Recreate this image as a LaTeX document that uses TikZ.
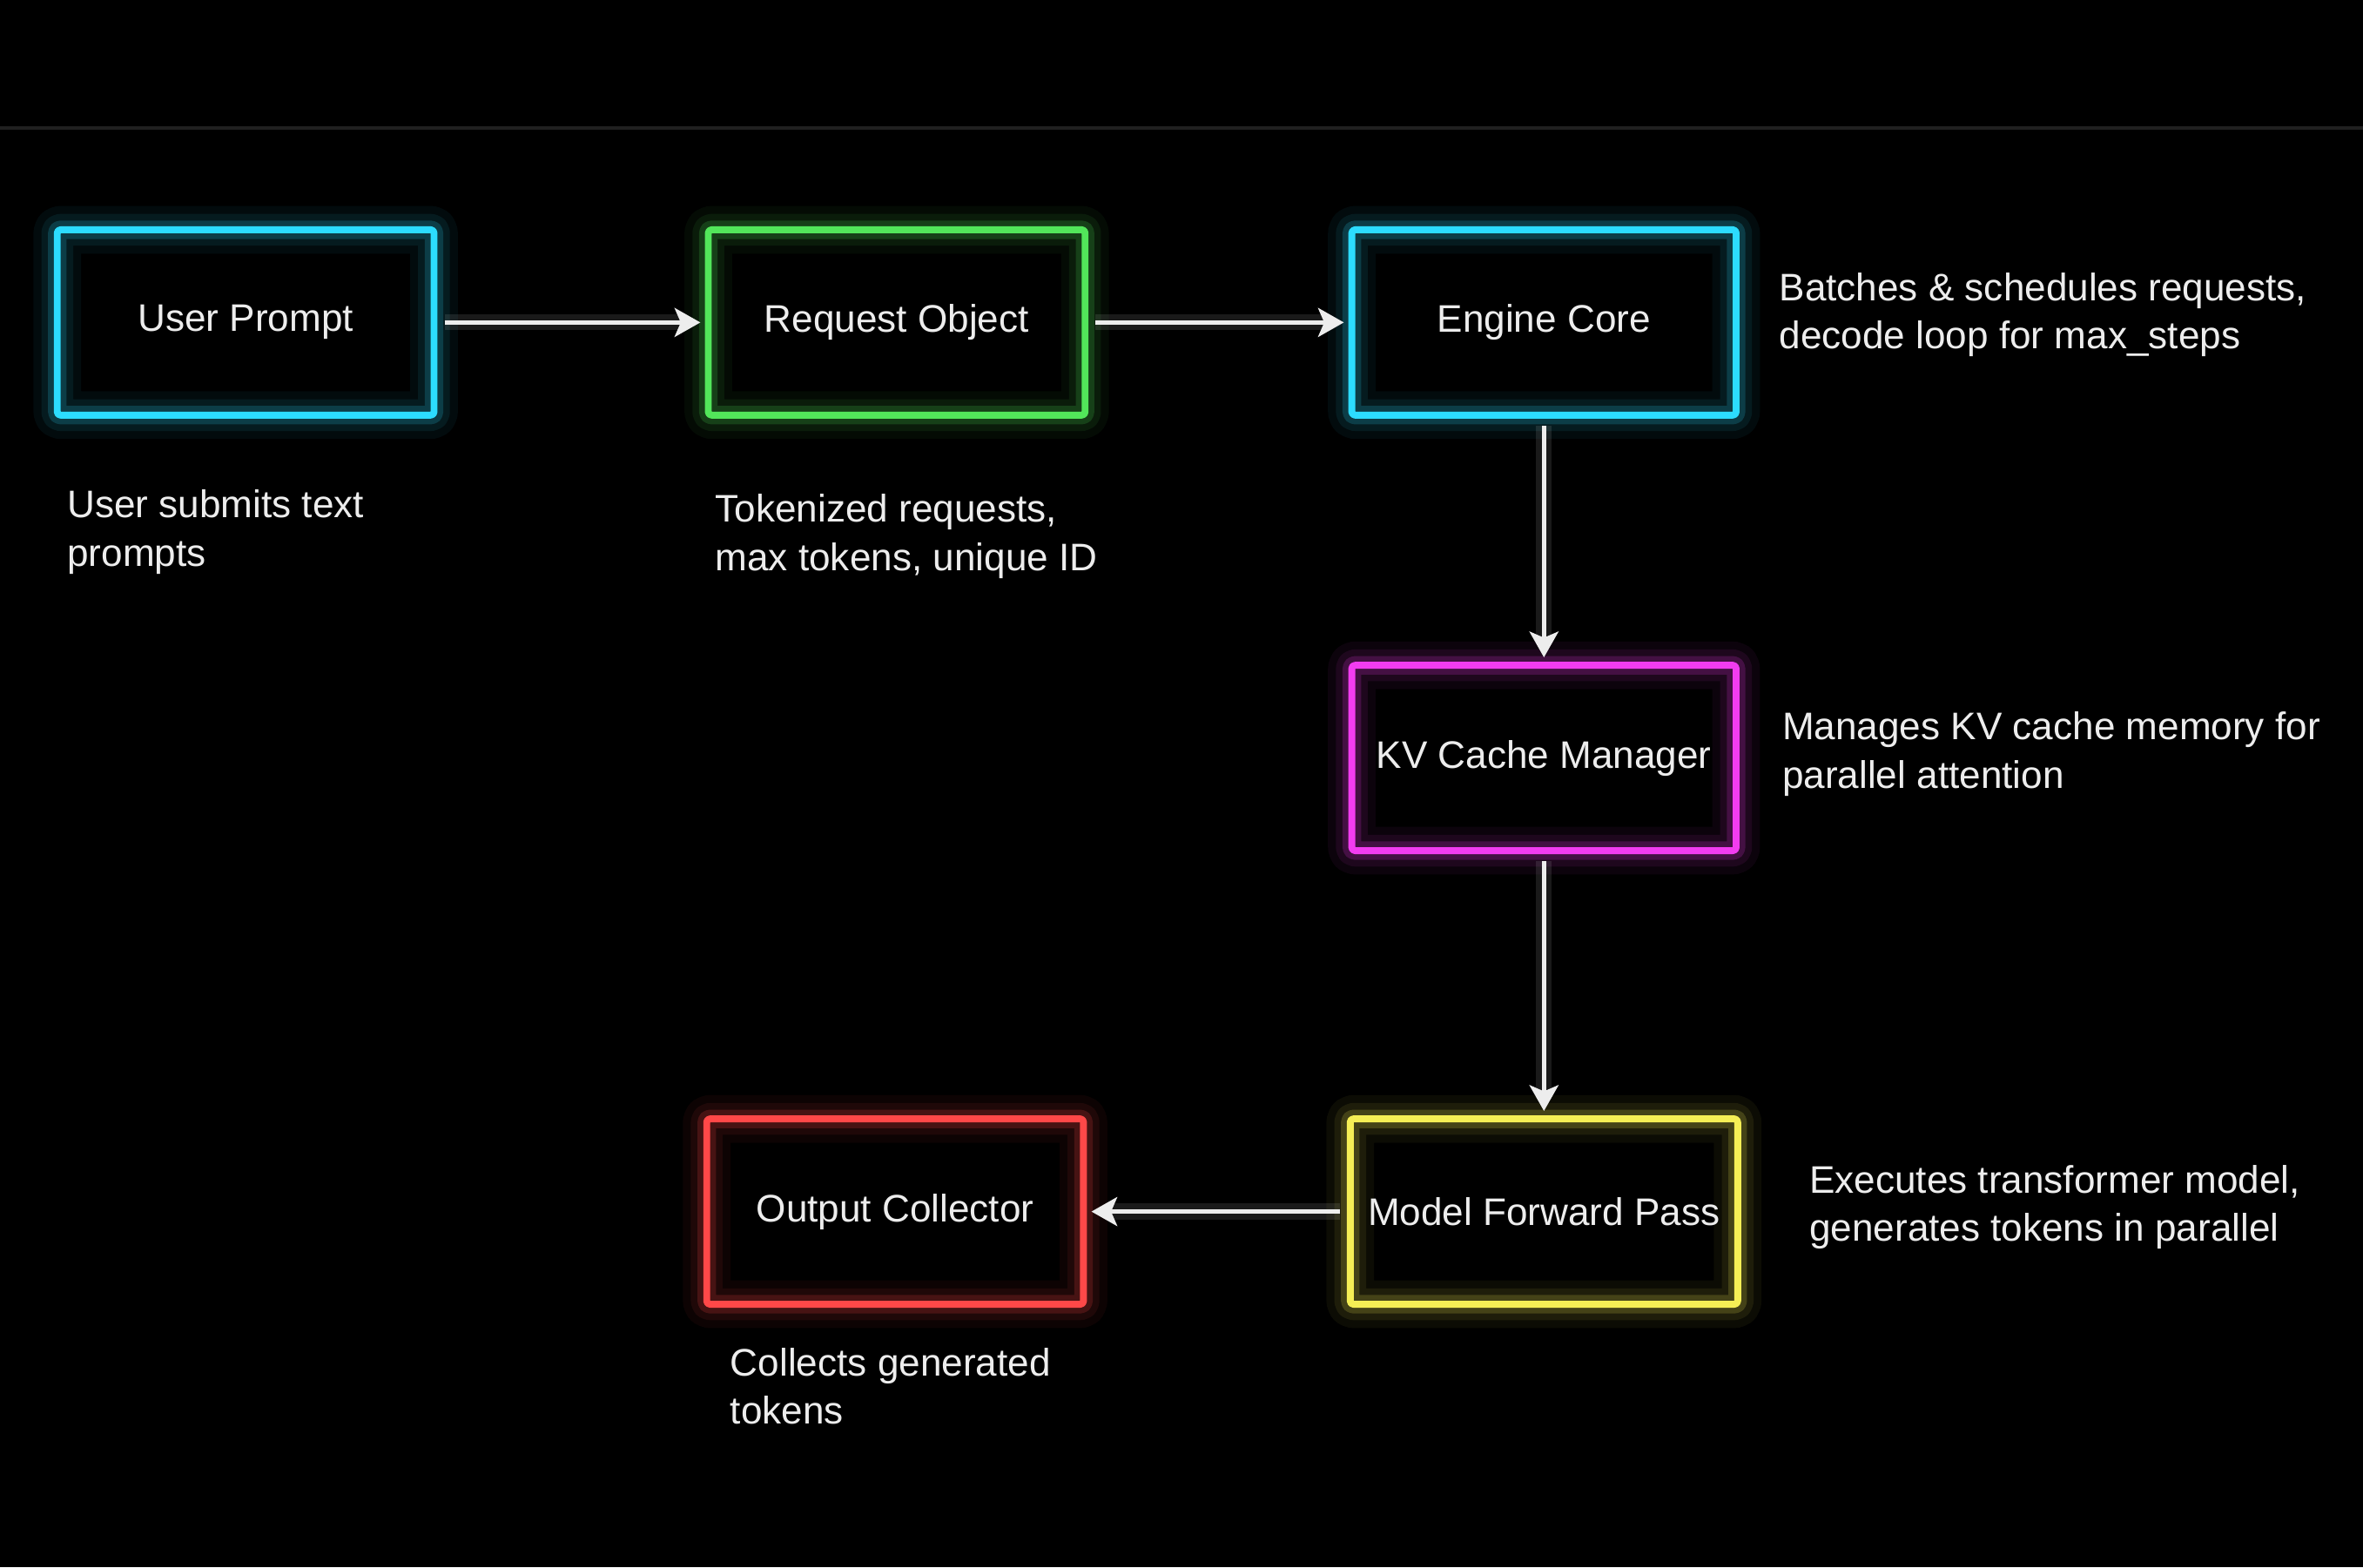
\documentclass[tikz,border=0pt]{standalone}
\usepackage{fontspec}
\setmainfont{Liberation Sans}
\usetikzlibrary{positioning,arrows.meta}
\definecolor{neoncyan}{HTML}{2CDCFF}
\definecolor{neongreen}{HTML}{52E65A}
\definecolor{neonpink}{HTML}{F23CF0}
\definecolor{neonyellow}{HTML}{F5EE55}
\definecolor{neonred}{HTML}{FF4848}
\definecolor{softwhite}{HTML}{EDEDED}
\begin{document}
\begin{tikzpicture}[->, >={Stealth[length=1.7mm,width=1.9mm,inset=0.4mm]},
        font=\fontsize{7.25}{9.1}\selectfont, text=softwhite,
        neon/.style={draw=#1, line width=1.3pt, minimum width=2.5cm, minimum height=1.23cm, outer sep=0pt,
            rounded corners=0.6pt, line join=round,
            preaction={draw=#1, line width=9pt, opacity=0.05},
            preaction={draw=#1, line width=6pt, opacity=0.08},
            preaction={draw=#1, line width=3.5pt, opacity=0.18}},
        note/.style={anchor=west, align=left, inner sep=0pt},
        flow/.style={draw=softwhite, line width=0.9pt, shorten <=2pt, shorten >=1.5pt,
            preaction={draw=white, line width=3pt, opacity=0.1}}]
        \useasboundingbox[fill=black] (0,0) rectangle (15.68,10.40);
        \draw[-, gray!25!black, line width=0.6pt] (0,9.55) -- (15.68,9.55);
        \node[neon=neoncyan] (prompt) at (1.63,8.26) {User Prompt};
        \node[neon=neongreen, right=1.82cm of prompt] (request) {Request Object};
        \node[neon=neoncyan, minimum width=2.55cm, right=1.77cm of request] (engine) {Engine Core};
        \node[neon=neonpink, minimum width=2.55cm, below=1.66cm of engine] (kvcache) {KV Cache Manager};
        \node[neon=neonyellow, minimum width=2.55cm, below=1.78cm of kvcache] (forward) {Model Forward Pass};
        \node[neon=neonred, left=1.77cm of forward] (collector) {Output Collector};
        \node[note] (promptnote) at (0.44,6.87) {User submits text\\prompts};
        \node[note] (requestnote) at (4.74,6.84) {Tokenized requests,\\max tokens, unique ID};
        \node[note] (enginenote) at (11.80,8.31) {Batches \& schedules requests,\\decode loop for max\_steps};
        \node[note] (kvnote) at (11.82,5.395) {Manages KV cache memory for\\parallel attention};
        \node[note] (forwardnote) at (12.00,2.39) {Executes transformer model,\\generates tokens in parallel};
        \node[note] (collectornote) at (4.84,1.20) {Collects generated\\tokens};
        \draw[flow] (prompt) -- (request);
        \draw[flow] (request) -- (engine);
        \draw[flow] (engine) -- (kvcache);
        \draw[flow] (kvcache) -- (forward);
        \draw[flow] (forward) -- (collector);
\end{tikzpicture}
\end{document}
